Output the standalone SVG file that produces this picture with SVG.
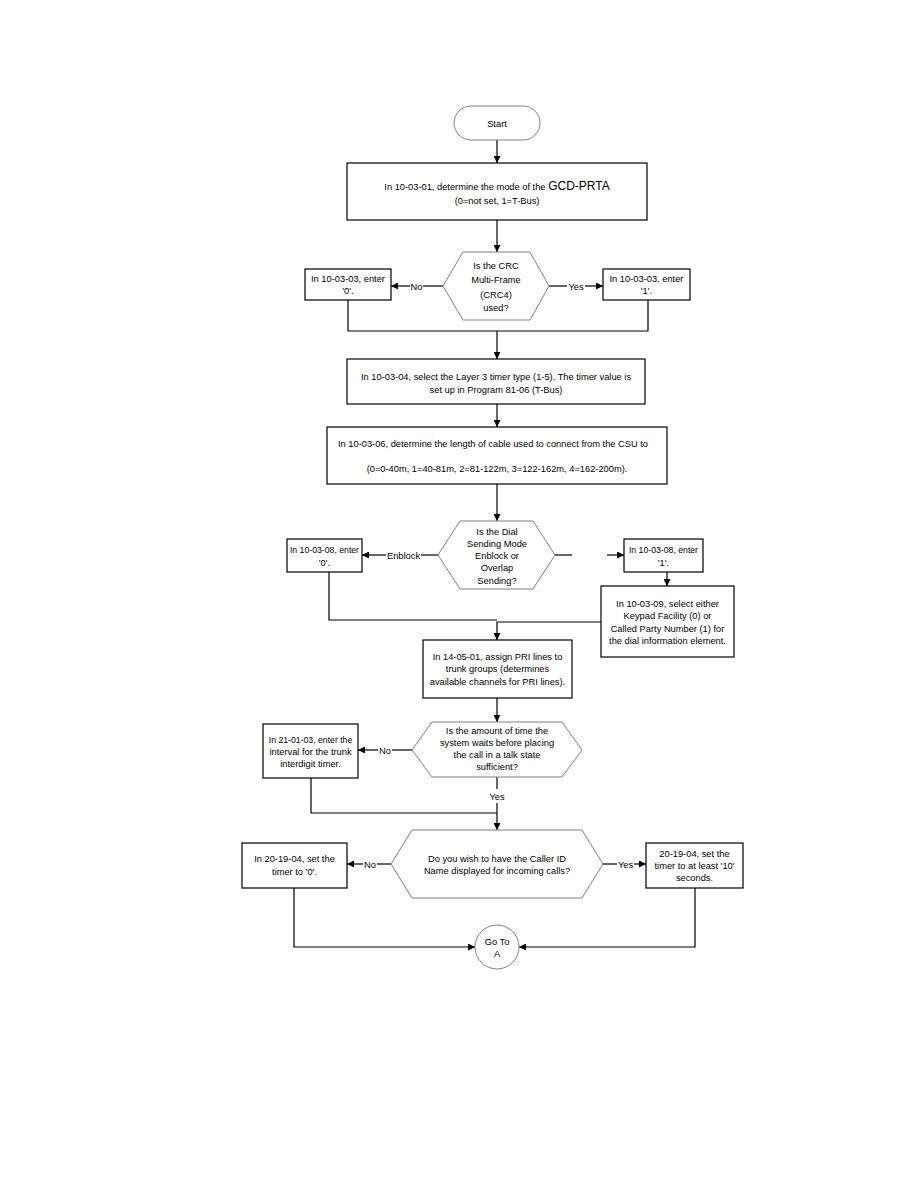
<svg xmlns="http://www.w3.org/2000/svg" width="918" height="1188" viewBox="0 0 918 1188">
<style>
text{font-family:"Liberation Sans",Arial,sans-serif;font-size:9.3px;fill:#000;text-anchor:middle}
.box{fill:#fff;stroke:#000;stroke-width:1.2}
.dec{fill:#fff;stroke:#808080;stroke-width:1}
.ln{fill:none;stroke:#000;stroke-width:1.2}
.big{font-size:12px}
.sm{font-size:8.7px}
</style>
<defs>
<marker id="ah" viewBox="0 0 10 10" refX="10" refY="5" markerWidth="9" markerHeight="7" markerUnits="userSpaceOnUse" orient="auto">
<path d="M0,0 L10,5 L0,10 z" fill="#000"/>
</marker>
</defs>
<rect width="918" height="1188" fill="#fff"/>
<g id="connectors">
<path class="ln" d="M497,140 V163" marker-end="url(#ah)"/>
<path class="ln" d="M497,220 V252" marker-end="url(#ah)"/>
<path class="ln" d="M443,286 H423"/>
<path class="ln" d="M410,286 H391" marker-end="url(#ah)"/>
<path class="ln" d="M549,286 H567"/>
<path class="ln" d="M585,286 H603" marker-end="url(#ah)"/>
<path class="ln" d="M348,300 V331 H648 V300"/>
<path class="ln" d="M497,331 V359" marker-end="url(#ah)"/>
<path class="ln" d="M497,404 V427" marker-end="url(#ah)"/>
<path class="ln" d="M497,484 V521" marker-end="url(#ah)"/>
<path class="ln" d="M438,555 H421"/>
<path class="ln" d="M386,555 H362" marker-end="url(#ah)"/>
<path class="ln" d="M555,555 H572"/>
<path class="ln" d="M607,555 H624" marker-end="url(#ah)"/>
<path class="ln" d="M667,572 V586" marker-end="url(#ah)"/>
<path class="ln" d="M329,572 V620 H497"/>
<path class="ln" d="M601,622 H497 V640" marker-end="url(#ah)"/>
<path class="ln" d="M497,698 V722" marker-end="url(#ah)"/>
<path class="ln" d="M412,750 H392"/>
<path class="ln" d="M378,750 H358" marker-end="url(#ah)"/>
<path class="ln" d="M497,777 V789"/>
<path class="ln" d="M497,803 V830" marker-end="url(#ah)"/>
<path class="ln" d="M311,778 V813 H497"/>
<path class="ln" d="M391,864 H377"/>
<path class="ln" d="M363,864 H347" marker-end="url(#ah)"/>
<path class="ln" d="M603,864 H617"/>
<path class="ln" d="M634,864 H646" marker-end="url(#ah)"/>
<path class="ln" d="M294,888 V947 H475" marker-end="url(#ah)"/>
<path class="ln" d="M695,888 V947 H519" marker-end="url(#ah)"/>
<text x="416.5" y="289.5">No</text>
<text x="576" y="289.5">Yes</text>
<text x="403.5" y="558.5">Enblock</text>
<text x="385" y="753.5">No</text>
<text x="497" y="800">Yes</text>
<text x="370" y="867.5">No</text>
<text x="625.5" y="867.5">Yes</text>
</g>
<g id="start">
<rect class="dec" x="454" y="106" width="86" height="34" rx="17" ry="17"/>
<text x="497" y="127">Start</text>
</g>
<g id="mode">
<rect class="box" x="347" y="163" width="300" height="57"/>
<text x="497" y="190">In 10-03-01, determine the mode of the <tspan class="big">GCD-PRTA</tspan></text>
<text x="497" y="204">(0=not set, 1=T-Bus)</text>
</g>
<g id="crc">
<polygon class="dec" points="443,286 463,252 530,252 549,286 530,320 463,320"/>
<text x="496" y="268.5">Is the CRC</text>
<text x="496" y="282.5">Multi-Frame</text>
<text x="496" y="297.5">(CRC4)</text>
<text x="496" y="310.5">used?</text>
</g>
<g id="crc-no">
<rect class="box" x="305" y="269" width="86" height="31"/>
<text x="348" y="281.5">In 10-03-03, enter</text>
<text x="348" y="293.5">'0'.</text>
</g>
<g id="crc-yes">
<rect class="box" x="603" y="269" width="87" height="31"/>
<text x="646.5" y="281.5">In 10-03-03, enter</text>
<text x="646.5" y="293.5">'1'.</text>
</g>
<g id="timer">
<rect class="box" x="347" y="359" width="298" height="45"/>
<text x="496" y="379.5">In 10-03-04, select the Layer 3 timer type (1-5). The timer value is</text>
<text x="496" y="392.5">set up in Program 81-06 (T-Bus)</text>
</g>
<g id="cable">
<rect class="box" x="327" y="427" width="340" height="57"/>
<text x="493" y="446.5">In 10-03-06, determine the length of cable used to connect from the CSU to</text>
<text x="497" y="471.5">(0=0-40m, 1=40-81m, 2=81-122m, 3=122-162m, 4=162-200m).</text>
</g>
<g id="dial">
<polygon class="dec" points="438,555 460,521 533,521 555,555 533,589 460,589"/>
<text x="497" y="534.5">Is the Dial</text>
<text x="497" y="547">Sending Mode</text>
<text x="497" y="559">Enblock or</text>
<text x="497" y="571">Overlap</text>
<text x="497" y="583.5">Sending?</text>
</g>
<g id="dial-enblock">
<rect class="box" x="287" y="539" width="75" height="33"/>
<text class="sm" x="324.5" y="552.5">In 10-03-08, enter</text>
<text x="324.5" y="565.5">'0'.</text>
</g>
<g id="dial-overlap">
<rect class="box" x="624" y="539" width="79" height="33"/>
<text class="sm" x="663.5" y="552.5">In 10-03-08, enter</text>
<text x="663.5" y="565.5">'1'.</text>
</g>
<g id="keypad">
<rect class="box" x="601" y="586" width="133" height="71"/>
<text x="667.5" y="606.5">In 10-03-09, select either</text>
<text x="667.5" y="618.5">Keypad Facility (0) or</text>
<text x="667.5" y="631.5">Called Party Number (1) for</text>
<text x="667.5" y="643.5">the dial information element.</text>
</g>
<g id="pri">
<rect class="box" x="423" y="640" width="149" height="58"/>
<text x="497.5" y="659.5">In 14-05-01, assign PRI lines to</text>
<text x="497.5" y="671.5">trunk groups (determines</text>
<text x="497.5" y="684.5">available channels for PRI lines).</text>
</g>
<g id="wait">
<polygon class="dec" points="412,750 432,722 562,722 582,750 562,777 432,777"/>
<text x="497" y="733.5">Is the amount of time the</text>
<text x="497" y="745.5">system waits before placing</text>
<text x="497" y="757.5">the call in a talk state</text>
<text x="497" y="769.5">sufficient?</text>
</g>
<g id="interdigit">
<rect class="box" x="263" y="724" width="95" height="54"/>
<text class="sm" x="310.5" y="742.5">In 21-01-03, enter the</text>
<text x="310.5" y="754.5">interval for the trunk</text>
<text x="310.5" y="766.5">interdigit timer.</text>
</g>
<g id="callerid">
<polygon class="dec" points="391,864 412,830 582,830 603,864 582,898 412,898"/>
<text x="497" y="861.5">Do you wish to have the Caller ID</text>
<text x="497" y="873.5">Name displayed for incoming calls?</text>
</g>
<g id="callerid-no">
<rect class="box" x="242" y="843" width="105" height="45"/>
<text x="294.5" y="862">In 20-19-04, set the</text>
<text x="294.5" y="875">timer to '0'.</text>
</g>
<g id="callerid-yes">
<rect class="box" x="646" y="843" width="97" height="45"/>
<text x="694.5" y="856.5">20-19-04, set the</text>
<text x="694.5" y="868.5">timer to at least '10'</text>
<text x="694.5" y="880.5">seconds.</text>
</g>
<g id="goto-a">
<circle class="dec" cx="497" cy="947" r="22"/>
<text x="497" y="944.5">Go To</text>
<text x="497" y="957">A</text>
</g>
</svg>
